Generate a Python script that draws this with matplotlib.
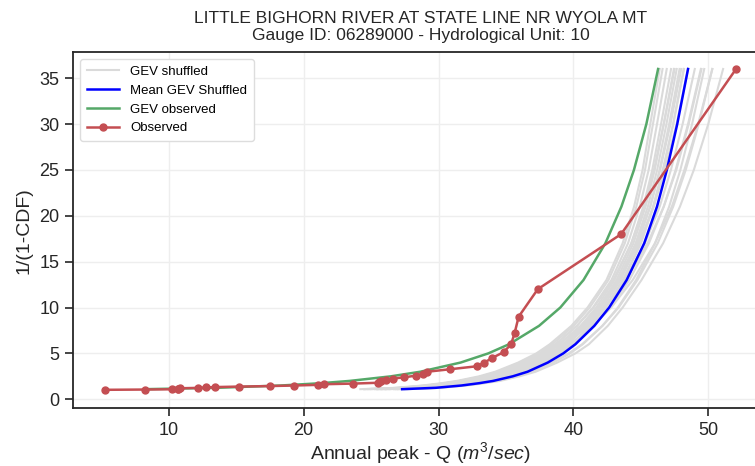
import matplotlib
matplotlib.use("Agg")
import matplotlib.pyplot as plt

plt.rcParams['font.family'] = ['Liberation Sans', 'DejaVu Sans']
plt.rcParams['mathtext.fontset'] = 'custom'
plt.rcParams['mathtext.rm'] = 'Liberation Sans'
plt.rcParams['mathtext.it'] = 'Liberation Sans:italic'

# Observed annual peaks (m3/sec) and their return periods
obs_q = [5.26, 8.25, 10.27, 10.67, 10.7, 10.85, 12.16, 12.79, 13.46, 15.18, 17.52,
         19.30, 21.04, 21.52, 23.69, 25.54, 25.6, 25.71, 26.12, 26.60, 27.47, 28.30,
         28.84, 29.16, 30.84, 32.86, 33.40, 33.97, 34.83, 35.38, 35.64, 35.94, 37.36,
         43.54, 52.06]
obs_t = [1.03, 1.06, 1.09, 1.13, 1.16, 1.2, 1.24, 1.29, 1.33, 1.38, 1.44, 1.5, 1.57,
         1.64, 1.71, 1.8, 1.89, 2.0, 2.12, 2.25, 2.4, 2.57, 2.77, 3.0, 3.27, 3.6, 4.0,
         4.5, 5.14, 6.0, 7.2, 9.0, 12.0, 18.0, 36.0]

# Return-period levels at which the fitted curves were read
curve_t = [1.1, 1.25, 1.5, 1.75, 2, 2.5, 3, 4, 5, 6, 8, 10, 13, 17, 21, 25, 30, 36]

gev_observed_q = [8.2, 13.6, 18.3, 21.26, 23.41, 26.47, 28.64, 31.63, 33.69, 35.23,
                  37.45, 39.03, 40.75, 42.37, 43.56, 44.49, 45.41, 46.28]
mean_shuffled_q = [27.3, 29.8, 31.7, 33.0, 34.05, 35.5, 36.6, 38.1, 39.25, 40.15,
                   41.55, 42.65, 43.95, 45.25, 46.2, 46.93, 47.7, 48.5]
shuffled_q = [
    [24.2, 26.8, 28.8, 30.2, 31.35, 33.0, 34.2, 35.9, 37.25, 38.25, 39.85, 41.05, 42.45, 43.65, 44.5, 45.13, 45.7, 46.4],
    [24.51, 27.1, 29.09, 30.48, 31.62, 33.25, 34.44, 36.12, 37.45, 38.44, 40.02, 41.21, 42.6, 43.81, 44.67, 45.31, 45.9, 46.61],
    [24.5, 27.1, 29.1, 30.5, 31.65, 33.3, 34.55, 36.25, 37.6, 38.65, 40.25, 41.5, 42.95, 44.3, 45.25, 45.98, 46.7, 47.5],
    [24.97, 27.55, 29.52, 30.9, 32.02, 33.62, 34.8, 36.45, 37.75, 38.72, 40.27, 41.45, 42.82, 44.05, 44.92, 45.58, 46.2, 46.92],
    [24.8, 27.4, 29.4, 30.8, 31.95, 33.55, 34.8, 36.5, 37.85, 38.9, 40.55, 41.85, 43.35, 44.85, 45.95, 46.78, 47.65, 48.5],
    [25.44, 28.0, 29.96, 31.32, 32.43, 34.0, 35.16, 36.78, 38.05, 39.01, 40.53, 41.69, 43.05, 44.29, 45.18, 45.85, 46.5, 47.24],
    [25.3, 27.9, 29.9, 31.3, 32.45, 34.05, 35.3, 37.0, 38.35, 39.4, 41.05, 42.35, 43.9, 45.5, 46.7, 47.63, 48.55, 49.5],
    [25.5, 28.05, 30.05, 31.45, 32.6, 34.2, 35.4, 37.1, 38.4, 39.45, 41.05, 42.3, 43.8, 45.3, 46.4, 47.23, 48.1, 49.0],
    [25.75, 28.3, 30.25, 31.6, 32.7, 34.25, 35.4, 37.0, 38.25, 39.2, 40.7, 41.85, 43.2, 44.45, 45.35, 46.03, 46.7, 47.45],
    [25.8, 28.3, 30.25, 31.6, 32.75, 34.3, 35.55, 37.25, 38.65, 39.75, 41.45, 42.8, 44.4, 46.05, 47.3, 48.23, 49.25, 50.3],
    [26.06, 28.6, 30.54, 31.88, 32.97, 34.5, 35.64, 37.22, 38.45, 39.39, 40.87, 42.01, 43.35, 44.61, 45.52, 46.21, 46.9, 47.66],
    [26.1, 28.65, 30.6, 31.95, 33.05, 34.55, 35.7, 37.25, 38.45, 39.4, 40.85, 42.0, 43.35, 44.7, 45.7, 46.43, 47.2, 48.0],
    [26.37, 28.9, 30.83, 32.16, 33.24, 34.75, 35.88, 37.44, 38.65, 39.58, 41.04, 42.17, 43.5, 44.77, 45.69, 46.39, 47.1, 47.87],
    [26.7, 29.2, 31.1, 32.4, 33.5, 35.0, 36.15, 37.7, 38.95, 39.95, 41.5, 42.7, 44.15, 45.6, 46.7, 47.58, 48.5, 49.45],
    [26.83, 29.35, 31.26, 32.58, 33.64, 35.12, 36.24, 37.77, 38.95, 39.86, 41.29, 42.41, 43.72, 45.01, 45.94, 46.66, 47.4, 48.18],
    [27.0, 29.5, 31.4, 32.7, 33.75, 35.2, 36.3, 37.8, 38.95, 39.85, 41.25, 42.35, 43.65, 44.95, 45.9, 46.63, 47.4, 48.2],
    [27.3, 29.8, 31.7, 33.0, 34.15, 35.65, 36.8, 38.4, 39.65, 40.65, 42.15, 43.35, 44.75, 46.25, 47.4, 48.33, 49.3, 50.3],
    [27.5, 30.0, 31.9, 33.2, 34.3, 35.8, 36.95, 38.5, 39.75, 40.7, 42.15, 43.3, 44.65, 46.05, 47.1, 47.93, 48.8, 49.7],
    [27.7, 30.2, 32.1, 33.4, 34.55, 36.0, 37.2, 38.8, 40.15, 41.15, 42.55, 43.65, 45.05, 46.65, 47.9, 48.93, 50.0, 51.1],
]

title = "LITTLE BIGHORN RIVER AT STATE LINE NR WYOLA MT\nGauge ID: 06289000 - Hydrological Unit: 10"

fig = plt.figure(figsize=(7.55, 4.66), dpi=100)
ax = fig.add_axes([0.0971, 0.1245, 0.9196, 0.7629])

gray = '#dadada'
for i, q in enumerate(shuffled_q):
    ax.plot(q, curve_t, color=gray, lw=1.5, zorder=1,
            label='GEV shuffled' if i == 0 else None)
ax.plot(mean_shuffled_q, curve_t, color='#0000ff', lw=1.8, zorder=3, label='Mean GEV Shuffled')
ax.plot(gev_observed_q, curve_t, color='#55a868', lw=1.8, zorder=3, label='GEV observed')
ax.plot(obs_q, obs_t, color='#c44e52', lw=1.8, marker='o', ms=5, zorder=4, label='Observed')

ax.set_xlim(2.92, 54.4)
ax.set_ylim(-0.95, 37.8)
ax.set_xticks([10, 20, 30, 40, 50])
ax.set_yticks([0, 5, 10, 15, 20, 25, 30, 35])
ax.grid(True, color='#eeeeee', lw=1.0, zorder=0)
ax.set_axisbelow(True)
for s in ['left', 'bottom', 'top', 'right']:
    ax.spines[s].set_color('#262626')
    ax.spines[s].set_linewidth(1.3)
ax.tick_params(axis='both', direction='out', length=6, width=1.2, color='#262626',
               labelsize=13, labelcolor='#262626', pad=4)
ax.set_xlabel(r'Annual peak - Q ($m^3/sec$)', fontsize=14, color='#262626', labelpad=1)
ax.set_ylabel('1/(1-CDF)', fontsize=14, color='#262626', labelpad=5)
ax.set_title(title, fontsize=12.5, color='#262626', pad=9, linespacing=1.2)

leg = ax.legend(loc='upper left', fontsize=9.5, frameon=True, framealpha=1.0,
                edgecolor='#dddddd', borderpad=0.5, handlelength=2.5)
leg.get_frame().set_linewidth(1.0)

fig.savefig('out.png', dpi=100)
